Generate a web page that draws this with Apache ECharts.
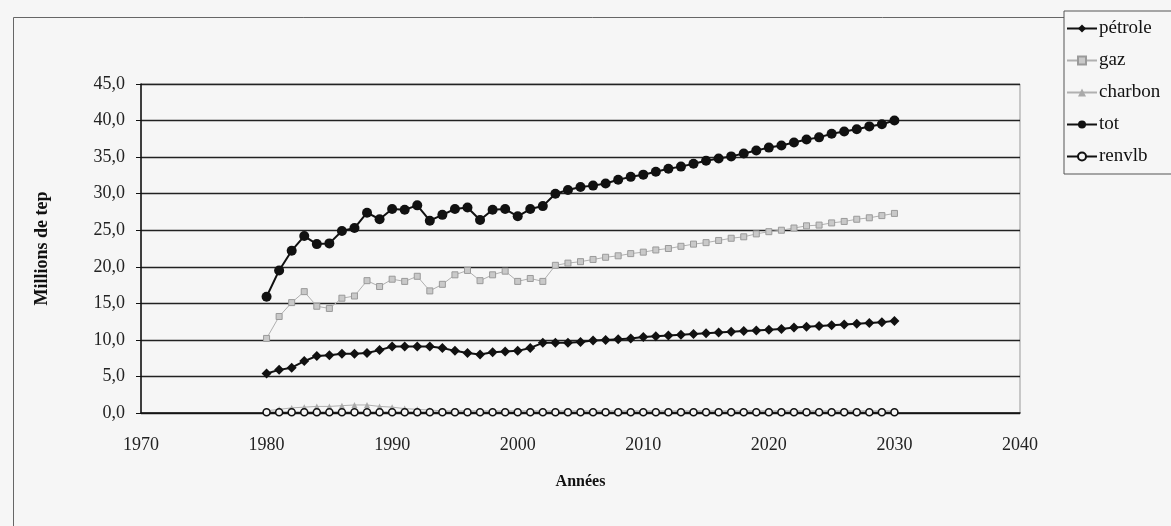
<!DOCTYPE html>
<html>
<head>
<meta charset="utf-8">
<script src="https://cdn.jsdelivr.net/npm/echarts@6/dist/echarts.min.js"></script>
<style>
  html, body { margin: 0; padding: 0; background: #f6f6f6; }
  #chart { width: 1171px; height: 526px; }
</style>
</head>
<body>
<div id="chart"></div>
<script>
// Consommation d'énergie primaire (Millions de tep), 1980-2030
const YEARS = [1980, 1981, 1982, 1983, 1984, 1985, 1986, 1987, 1988, 1989,
  1990, 1991, 1992, 1993, 1994, 1995, 1996, 1997, 1998, 1999,
  2000, 2001, 2002, 2003, 2004, 2005, 2006, 2007, 2008, 2009,
  2010, 2011, 2012, 2013, 2014, 2015, 2016, 2017, 2018, 2019,
  2020, 2021, 2022, 2023, 2024, 2025, 2026, 2027, 2028, 2029, 2030]
const PETROLE = [5.4, 5.9, 6.2, 7.1, 7.8, 7.9, 8.1, 8.1, 8.2, 8.6,
  9.1, 9.1, 9.1, 9.1, 8.9, 8.5, 8.2, 8.0, 8.3, 8.4,
  8.5, 8.9, 9.6, 9.6, 9.6, 9.7, 9.9, 10.0, 10.1, 10.2,
  10.4, 10.5, 10.6, 10.7, 10.8, 10.9, 11.0, 11.1, 11.2, 11.3,
  11.4, 11.5, 11.7, 11.8, 11.9, 12.0, 12.1, 12.2, 12.3, 12.4, 12.6]
const GAZ = [10.2, 13.2, 15.1, 16.6, 14.6, 14.3, 15.7, 16.0, 18.1, 17.3,
  18.3, 18.0, 18.7, 16.7, 17.6, 18.9, 19.5, 18.1, 18.9, 19.4,
  18.0, 18.4, 18.0, 20.2, 20.5, 20.7, 21.0, 21.3, 21.5, 21.8,
  22.0, 22.3, 22.5, 22.8, 23.1, 23.3, 23.6, 23.9, 24.1, 24.5,
  24.8, 25.0, 25.3, 25.6, 25.7, 26.0, 26.2, 26.5, 26.7, 27.0, 27.3]
const CHARBON = [0.3, 0.5, 0.7, 0.8, 0.9, 0.9, 1.0, 1.1, 1.1, 0.9,
  0.8, 0.6, 0.5, 0.4, 0.3, 0.3, 0.3, 0.3, 0.3, 0.3,
  0.3, 0.3, 0.3, 0.3, 0.3, 0.3, 0.3, 0.3, 0.3, 0.3,
  0.3, 0.3, 0.3, 0.3, 0.3, 0.3, 0.3, 0.3, 0.3, 0.3,
  0.3, 0.3, 0.3, 0.3, 0.3, 0.3, 0.3, 0.3, 0.3, 0.3, 0.3]
const TOT = [15.9, 19.5, 22.2, 24.2, 23.1, 23.2, 24.9, 25.3, 27.4, 26.5,
  27.9, 27.8, 28.4, 26.3, 27.1, 27.9, 28.1, 26.4, 27.8, 27.9,
  26.9, 27.9, 28.3, 30.0, 30.5, 30.9, 31.1, 31.4, 31.9, 32.3,
  32.6, 33.0, 33.4, 33.7, 34.1, 34.5, 34.8, 35.1, 35.5, 35.9,
  36.3, 36.6, 37.0, 37.4, 37.7, 38.2, 38.5, 38.8, 39.2, 39.5, 40.0]
const RENVLB = [0.1, 0.1, 0.1, 0.1, 0.1, 0.1, 0.1, 0.1, 0.1, 0.1,
  0.1, 0.1, 0.1, 0.1, 0.1, 0.1, 0.1, 0.1, 0.1, 0.1,
  0.1, 0.1, 0.1, 0.1, 0.1, 0.1, 0.1, 0.1, 0.1, 0.1,
  0.1, 0.1, 0.1, 0.1, 0.1, 0.1, 0.1, 0.1, 0.1, 0.1,
  0.1, 0.1, 0.1, 0.1, 0.1, 0.1, 0.1, 0.1, 0.1, 0.1, 0.1]

const SERIF = '"Liberation Serif", "DejaVu Serif", serif'
const pts = vals => YEARS.map((y, i) => [y, vals[i]])

const chart = echarts.init(document.getElementById('chart'))
chart.setOption({
  backgroundColor: '#f6f6f6',
  animation: false,
  graphic: [{
    type: 'rect', left: 11, top: 15, z: -1,
    shape: { width: 1250, height: 600 },
    style: { fill: 'none', stroke: '#666', lineWidth: 1 }
  }],
  grid: { left: 141, right: 151, top: 84, bottom: 113, show: true, borderColor: '#999', borderWidth: 1 },
  legend: {
    orient: 'vertical', left: 1064, top: 11,
    itemWidth: 30, itemHeight: 10, itemGap: 13,
    padding: [8, 12, 8, 2],
    borderColor: '#555', borderWidth: 1, backgroundColor: '#f6f6f6',
    textStyle: { fontFamily: SERIF, fontSize: 19, color: '#111', padding: [0, 0, 0, -3] },
    data: ['pétrole', 'gaz', 'charbon', 'tot', 'renvlb']
  },
  xAxis: {
    type: 'value', min: 1970, max: 2040, interval: 10,
    name: 'Années', nameLocation: 'middle', nameGap: 61,
    nameTextStyle: { fontFamily: SERIF, fontSize: 16, fontWeight: 'bold', color: '#111' },
    axisLine: { onZero: false, lineStyle: { color: '#111', width: 1.5 } },
    axisTick: { show: false },
    axisLabel: { fontFamily: SERIF, fontSize: 18, color: '#222', margin: 23,
      formatter: v => String(v) },
    splitLine: { show: false }
  },
  yAxis: {
    type: 'value', min: 0, max: 45, interval: 5,
    name: 'Millions de tep', nameLocation: 'middle', nameGap: 90,
    nameTextStyle: { fontFamily: SERIF, fontSize: 18, fontWeight: 'bold', color: '#111' },
    axisLine: { show: true, lineStyle: { color: '#111', width: 1.5 } },
    axisTick: { show: true, length: 5, lineStyle: { color: '#111' } },
    axisLabel: { fontFamily: SERIF, fontSize: 18, color: '#222', margin: 16,
      formatter: v => v.toFixed(1).replace('.', ',') },
    splitLine: { lineStyle: { color: '#222', width: 1.3 } }
  },
  series: [
    { name: 'pétrole', type: 'line', data: pts(PETROLE), symbol: 'diamond', symbolSize: 10,
      itemStyle: { color: '#111' }, lineStyle: { color: '#111', width: 2 } },
    { name: 'gaz', type: 'line', data: pts(GAZ), symbol: 'rect', symbolSize: 6,
      itemStyle: { color: '#c9c9c9', borderColor: '#9a9a9a', borderWidth: 1 },
      lineStyle: { color: '#b0b0b0', width: 1 } },
    { name: 'charbon', type: 'line', data: pts(CHARBON), symbol: 'triangle', symbolSize: 6,
      itemStyle: { color: '#aaa' }, lineStyle: { color: '#b0b0b0', width: 1 } },
    { name: 'tot', type: 'line', data: pts(TOT), symbol: 'circle', symbolSize: 10,
      itemStyle: { color: '#111' }, lineStyle: { color: '#111', width: 2 } },
    { name: 'renvlb', type: 'line', data: pts(RENVLB), symbol: 'circle', symbolSize: 7,
      itemStyle: { color: '#f6f6f6', borderColor: '#111', borderWidth: 1.6 },
      lineStyle: { color: '#111', width: 1 } }
  ]
})
</script>
</body>
</html>
